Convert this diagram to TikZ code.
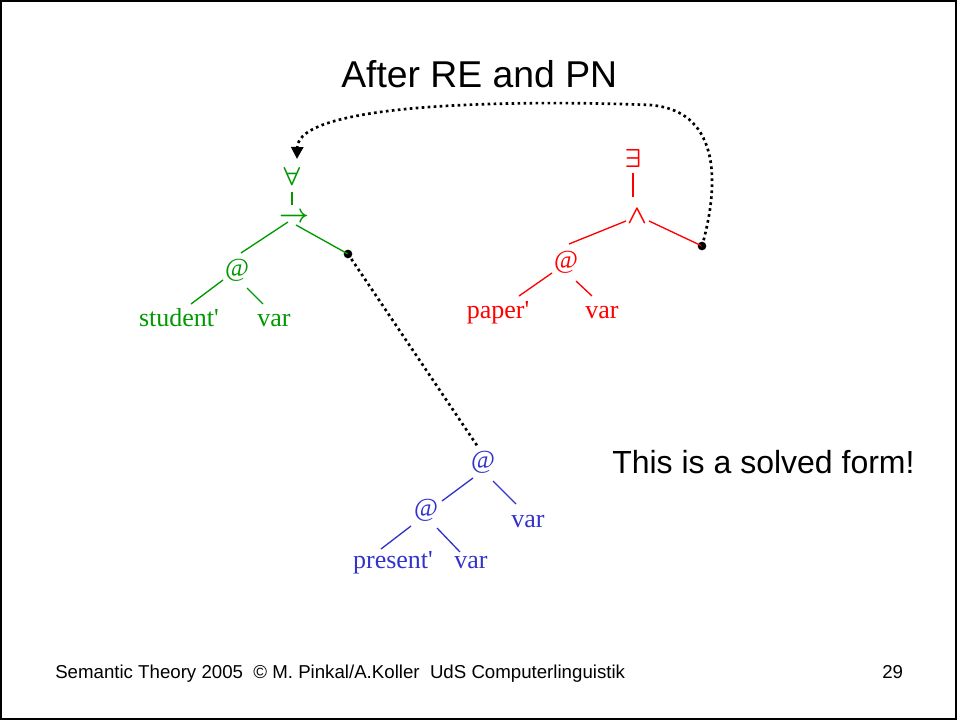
\RequirePackage{fix-cm}
\documentclass[tikz,border=0pt]{standalone}
\usepackage{fontspec}
\usepackage{bm}
\usetikzlibrary{arrows.meta}
\newfontfamily\sansf{Liberation Sans}
\newfontfamily\seriff{Liberation Serif}
\definecolor{treegreen}{RGB}{0,153,0}
\definecolor{treered}{RGB}{255,0,0}
\definecolor{treeblue}{RGB}{51,51,204}
\tikzset{
  lbl/.style={inner sep=0pt, font=\seriff\fontsize{19.5}{23}\selectfont},
  word/.style={lbl, anchor=base},
  edge/.style={line width=1pt},
  dotline/.style={line width=2pt, dash pattern=on 2pt off 2.5pt, black},
  hole/.style={circle, fill=black, inner sep=0pt, minimum size=6.5pt},
  headline/.style={inner sep=0pt, anchor=base west, font=\sansf\fontsize{28}{33}\selectfont},
  remark/.style={inner sep=0pt, anchor=base west, font=\sansf\fontsize{24}{29}\selectfont},
  footer/.style={inner sep=0pt, anchor=base west, font=\sansf\fontsize{14}{17}\selectfont}
}
\begin{document}
\begin{tikzpicture}[x=0.75pt, y=-0.75pt]
\useasboundingbox (0,0) rectangle (957,720);
\draw[line width=1.5pt] (1,1) rectangle (956,719);

% headings and footer
\node[headline] (title) at (341,88) {After RE and PN};
\node[remark] (solved) at (612,473) {This is a solved form!};
\node[footer] (foot) at (55,678) {Semantic Theory 2005\ \ © M. Pinkal/A.Koller\ \ UdS Computerlinguistik};
\node[footer] (page) at (882,678) {29};

% green tree: forall / implication
\begin{scope}[color=treegreen]
  \node[lbl] (forall) at (292,176) {$\bm{\forall}$};
  \node[lbl] (imp) at (294,217) {$\bm{\to}$};
  \node[lbl] (atG) at (237,270) {@};
  \node[word] (stud) at (179,327) {student'};
  \node[word] (varG) at (274,327) {var};
  \node[hole] (dotG) at (348,254) {};
  \draw[edge] ([shift={(0,16)}]forall.center) -- ([shift={(-2,-12)}]imp.center);
  \draw[edge] ([shift={(-6,5)}]imp.center) -- ([shift={(4,-17)}]atG.center);
  \draw[edge] ([shift={(2,8)}]imp.center) -- (dotG.center);
  \draw[edge] ([shift={(-14,10)}]atG.center) -- ([shift={(12,-23)}]stud.base);
  \draw[edge] ([shift={(10,18)}]atG.center) -- ([shift={(-11,-23)}]varG.base);
\end{scope}

% red tree: exists / conjunction
\begin{scope}[color=treered]
  \node[lbl] (exists) at (633,158) {$\bm{\exists}$};
  \node[lbl] (conj) at (637,216) {$\bm{\wedge}$};
  \node[lbl] (atR) at (566,262) {@};
  \node[word] (paper) at (498,319) {paper'};
  \node[word] (varR) at (602,319) {var};
  \node[hole] (dotR) at (702,246) {};
  \draw[edge] ([shift={(0,15)}]exists.center) -- ([shift={(-4,-19)}]conj.center);
  \draw[edge] ([shift={(-11,5)}]conj.center) -- ([shift={(3,-18)}]atR.center);
  \draw[edge] ([shift={(12,5)}]conj.center) -- (dotR.center);
  \draw[edge] ([shift={(-14,11)}]atR.center) -- ([shift={(21,-23)}]paper.base);
  \draw[edge] ([shift={(10,19)}]atR.center) -- ([shift={(-10,-23)}]varR.base);
\end{scope}

% blue tree: present'
\begin{scope}[color=treeblue]
  \node[lbl] (atB) at (483,462) {@};
  \node[lbl] (atC) at (426,510) {@};
  \node[word] (varB) at (528,527) {var};
  \node[word] (pres) at (393,568) {present'};
  \node[word] (varC) at (471,568) {var};
  \draw[edge] ([shift={(-10,16)}]atB.center) -- ([shift={(16,-9)}]atC.center);
  \draw[edge] ([shift={(10,19)}]atB.center) -- ([shift={(-12,-23)}]varB.base);
  \draw[edge] ([shift={(-15,16)}]atC.center) -- ([shift={(-12,-19)}]pres.base);
  \draw[edge] ([shift={(11,18)}]atC.center) -- ([shift={(-11,-16)}]varC.base);
\end{scope}

% dominance edges
\draw[dotline] (dotG.center) -- ([shift={(-5,-15)}]atB.center);
\coordinate (bend) at (650,105);
\draw[dotline, -{Triangle[length=9pt, width=9pt]}]
  (dotR.center) .. controls (722,175) and (716,110) .. (bend)
  .. controls (520,100) and (298,102) .. ([shift={(5,-17)}]forall.center);
\end{tikzpicture}
\end{document}
